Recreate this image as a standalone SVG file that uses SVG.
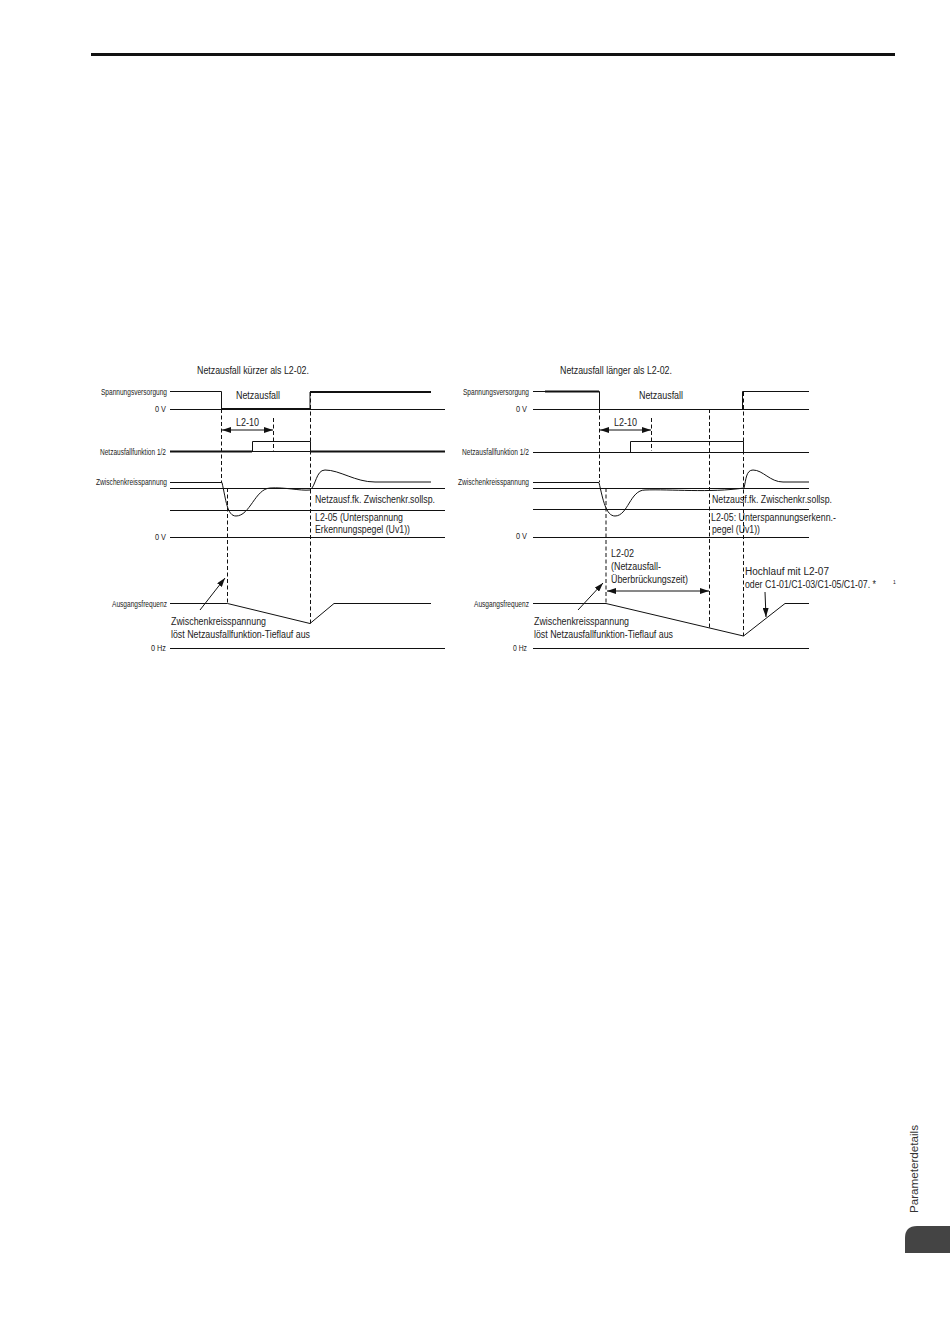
<svg xmlns="http://www.w3.org/2000/svg" width="950" height="1344" viewBox="0 0 950 1344">
<style>
text{font-family:"Liberation Sans",Arial,sans-serif;fill:#222}
.m{font-size:10px}
.s{font-size:9.500px}
.l{fill:none;stroke:#111;stroke-width:1}
.t{fill:none;stroke:#111;stroke-width:2}
.d{fill:none;stroke:#111;stroke-width:1;stroke-dasharray:4 2.500}
.a{fill:none;stroke:#111;stroke-width:1;marker-end:url(#ah)}
.b{fill:none;stroke:#111;stroke-width:1;marker-start:url(#as);marker-end:url(#ah)}
</style>
<defs>
<marker id="ah" markerUnits="userSpaceOnUse" markerWidth="9" markerHeight="6" refX="9" refY="3" orient="auto"><path d="M0 0L9 3L0 6z" fill="#111"/></marker>
<marker id="as" markerUnits="userSpaceOnUse" markerWidth="9" markerHeight="6" refX="0" refY="3" orient="auto"><path d="M9 0L0 3L9 6z" fill="#111"/></marker>
</defs>
<rect width="950" height="1344" fill="#fff"/>
<rect id="top-rule" x="91" y="53" width="804" height="3" fill="#111"/>
<g id="left-chart">
<text class="m" x="197" y="374" textLength="112" lengthAdjust="spacingAndGlyphs">Netzausfall kürzer als L2-02.</text>
<text class="s" x="101" y="395" textLength="66" lengthAdjust="spacingAndGlyphs">Spannungsversorgung</text>
<text class="s" x="155" y="412" textLength="11" lengthAdjust="spacingAndGlyphs">0 V</text>
<text class="s" x="100" y="455" textLength="66" lengthAdjust="spacingAndGlyphs">Netzausfallfunktion 1/2</text>
<text class="s" x="96" y="485" textLength="71" lengthAdjust="spacingAndGlyphs">Zwischenkreisspannung</text>
<text class="s" x="155" y="540" textLength="11" lengthAdjust="spacingAndGlyphs">0 V</text>
<text class="s" x="112" y="607" textLength="55" lengthAdjust="spacingAndGlyphs">Ausgangsfrequenz</text>
<text class="s" x="151" y="651" textLength="15" lengthAdjust="spacingAndGlyphs">0 Hz</text>
<text class="m" x="236" y="399" textLength="44" lengthAdjust="spacingAndGlyphs">Netzausfall</text>
<text class="m" x="236" y="426" textLength="23" lengthAdjust="spacingAndGlyphs">L2-10</text>
<text class="m" x="315" y="503" textLength="120" lengthAdjust="spacingAndGlyphs">Netzausf.fk. Zwischenkr.sollsp.</text>
<text class="m" x="315" y="521" textLength="88" lengthAdjust="spacingAndGlyphs">L2-05 (Unterspannung</text>
<text class="m" x="315" y="533" textLength="95" lengthAdjust="spacingAndGlyphs">Erkennungspegel (Uv1))</text>
<text class="m" x="171" y="625" textLength="95" lengthAdjust="spacingAndGlyphs">Zwischenkreisspannung</text>
<text class="m" x="171" y="638" textLength="139" lengthAdjust="spacingAndGlyphs">löst Netzausfallfunktion-Tieflauf aus</text>
</g>
<g id="right-chart">
<text class="m" x="560" y="374" textLength="112" lengthAdjust="spacingAndGlyphs">Netzausfall länger als L2-02.</text>
<text class="s" x="463" y="395" textLength="66" lengthAdjust="spacingAndGlyphs">Spannungsversorgung</text>
<text class="s" x="516" y="412" textLength="11" lengthAdjust="spacingAndGlyphs">0 V</text>
<text class="s" x="462" y="455" textLength="67" lengthAdjust="spacingAndGlyphs">Netzausfallfunktion 1/2</text>
<text class="s" x="458" y="485" textLength="71" lengthAdjust="spacingAndGlyphs">Zwischenkreisspannung</text>
<text class="s" x="516" y="539" textLength="11" lengthAdjust="spacingAndGlyphs">0 V</text>
<text class="s" x="474" y="607" textLength="55" lengthAdjust="spacingAndGlyphs">Ausgangsfrequenz</text>
<text class="s" x="513" y="651" textLength="14" lengthAdjust="spacingAndGlyphs">0 Hz</text>
<text class="m" x="639" y="399" textLength="44" lengthAdjust="spacingAndGlyphs">Netzausfall</text>
<text class="m" x="614" y="426" textLength="23" lengthAdjust="spacingAndGlyphs">L2-10</text>
<text class="m" x="712" y="503" textLength="120" lengthAdjust="spacingAndGlyphs">Netzausf.fk. Zwischenkr.sollsp.</text>
<text class="m" x="711" y="521" textLength="125" lengthAdjust="spacingAndGlyphs">L2-05: Unterspannungserkenn.-</text>
<text class="m" x="712" y="533" textLength="48" lengthAdjust="spacingAndGlyphs">pegel (Uv1))</text>
<text class="m" x="611" y="557" textLength="23" lengthAdjust="spacingAndGlyphs">L2-02</text>
<text class="m" x="611" y="570" textLength="50" lengthAdjust="spacingAndGlyphs">(Netzausfall-</text>
<text class="m" x="611" y="583" textLength="77" lengthAdjust="spacingAndGlyphs">Überbrückungszeit)</text>
<text class="m" x="745" y="575" textLength="84" lengthAdjust="spacingAndGlyphs">Hochlauf mit L2-07</text>
<text class="m" x="745" y="588" textLength="131" lengthAdjust="spacingAndGlyphs">oder C1-01/C1-03/C1-05/C1-07. *</text>
<text x="893" y="584" style="font-size:5px">1</text>
<text class="m" x="534" y="625" textLength="95" lengthAdjust="spacingAndGlyphs">Zwischenkreisspannung</text>
<text class="m" x="534" y="638" textLength="139" lengthAdjust="spacingAndGlyphs">löst Netzausfallfunktion-Tieflauf aus</text>
</g>
<g id="connectors">
<path class="l" d="M170 391.500H221.500V409M170 409.500H445M310 409V392M252 451.500H310M170 488.500H445M170 510.500H445M170 537.500H445M170 648.500H445"/>
<path class="t" d="M221 409H310M310 392H431M170 451.500H252M310 451.500H445"/>
<path class="l" d="M252.500 451V441.500H310.500V451"/>
<path class="l" d="M170 482.500H222C226 500 227 516 236 516C250 516 255 489 270 488C285 487 300 491 310 490C316 486 316 470 325 470C340 470 355 482 375 482H431"/>
<path class="l" d="M170 603.500H227.500L310 623.500L334 603.500H431"/>
<path class="d" d="M221.500 409V482M227.500 488V604M310.500 392V624M273.500 418V451"/>
<path class="b" d="M222 430H273"/>
<path class="a" d="M200 610L225 578"/>
<path class="l" d="M533 391.500H599.500V409M533 409.500H809M742.500 409V391.500H809M533 452.500H809M533 488.500H809M533 509.500H809M533 537.500H809M533 648.500H809"/>
<path class="t" d="M545 391.500H599"/>
<path class="l" d="M630.500 452V441.500H743.500V452"/>
<path class="l" d="M533 482.500H599C603 500 606 516 615 516C628 516 630 490 645 490C670 489 710 493 744 488C746 480 746 470 753 470C763 470 770 482 783 482H809"/>
<path class="l" d="M533 603.500H606L743.500 636L785 603.500H809"/>
<path class="d" d="M599.500 409V482M606 488V604M651.500 418V451M709.500 409V628M743.500 392V636"/>
<path class="b" d="M600 430H651"/>
<path class="b" d="M607 591H709"/>
<path class="a" d="M578 610L603 583"/>
<path class="a" d="M765 592L766 617"/>
</g>
<g id="side-tab">
<text x="918" y="1213" transform="rotate(-90 918 1213)" textLength="88" lengthAdjust="spacingAndGlyphs" style="font-size:10.500px;fill:#333">Parameterdetails</text>
<path d="M905 1253V1238Q905 1226 917 1226H950V1253Z" fill="#444"/>
</g>
</svg>
